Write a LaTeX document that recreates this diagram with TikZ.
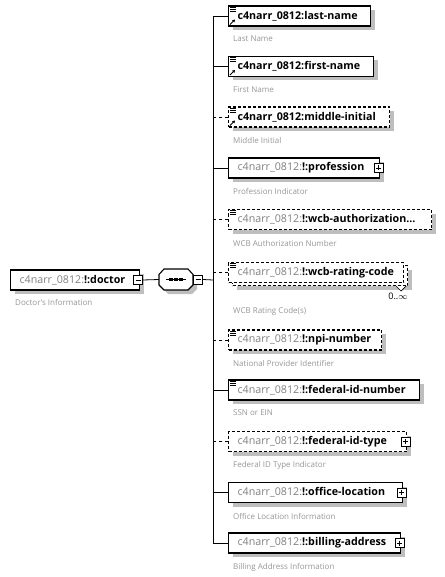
\documentclass[tikz,border=0pt]{standalone}
\usepackage{fontspec}
\setmainfont{Open Sans}
\usetikzlibrary{shadows,arrows.meta}
\definecolor{pfxgray}{RGB}{128,128,128}
\definecolor{descgray}{RGB}{150,150,150}
\definecolor{shadegray}{RGB}{190,190,190}
\newcommand\pfx{\textcolor{pfxgray}{c4narr\_0812:}}
\newcommand\el[1]{\mbox{\pfx\textbf{!:#1}}}
\newcommand\refel[1]{\mbox{\textbf{c4narr\_0812:#1}}}
\newcommand\docmark[1]{\foreach \k in {1.5,3.5,5.5} \draw[line width=0.7pt] ([shift={(2,\k)}]#1.north west) -- ++(6,0);}
\newcommand\refmark[1]{\draw[line width=0.8pt,-{Triangle[length=2.5pt,width=3pt]}] ([shift={(2,-2)}]#1.south west) -- ++(5,-5);}
\begin{document}
\begin{tikzpicture}[x=1pt,y=-1pt,
    box/.style={draw,line width=1.1pt,fill=white,anchor=west,minimum height=20pt,inner xsep=9pt,inner ysep=0pt,font=\fontsize{10.7}{12}\selectfont},
    elem/.style={box,drop shadow={shadow xshift=4pt,shadow yshift=-4pt,fill=shadegray,opacity=1}},
    opt/.style={elem,dash pattern=on 3pt off 2pt},
    desc/.style={anchor=west,inner sep=0pt,text=descgray,font=\fontsize{8}{10}\selectfont},
    minusbox/.style={draw,fill=white,line width=0.6pt,minimum size=9pt,inner sep=0pt,
        path picture={\draw[line width=0.6pt] ([xshift=2pt]path picture bounding box.west) -- ([xshift=-2pt]path picture bounding box.east);}},
    plusbox/.style={draw,fill=white,line width=0.6pt,minimum size=9pt,inner sep=0pt,
        path picture={\draw[line width=0.6pt] ([xshift=2pt]path picture bounding box.west) -- ([xshift=-2pt]path picture bounding box.east)
            ([yshift=-2pt]path picture bounding box.north) -- ([yshift=2pt]path picture bounding box.south);}},
    link/.style={line width=0.8pt},
    optlink/.style={line width=0.8pt,dash pattern=on 3pt off 3pt}]
    \useasboundingbox (0,0) rectangle (444,577);

    \node[elem,text width=111pt] (root) at (10,280) {\el{doctor}};
    \node[minusbox] (rm) at ([xshift=-2pt]root.east) {};
    \node[desc] (rootd) at (15,302) {Doctor's Information};
    \fill[shadegray,shift={(4,4)}] (159,274.5) -- (164,269) -- (188,269) -- (193,274.5) -- (193,285) -- (188,290) -- (164,290) -- (159,285) -- cycle;
    \filldraw[fill=white,line width=1.1pt] (159,274.5) -- (164,269) -- (188,269) -- (193,274.5) -- (193,285) -- (188,290) -- (164,290) -- (159,285) -- cycle;
    \node[minimum width=34pt,minimum height=21pt,inner sep=0pt] (seq) at (176,279.5) {};
    \draw[line width=1pt] ([xshift=-10pt]seq.center) -- ([xshift=10pt]seq.center);
    \foreach \d in {-5,0,5} \fill ([xshift=\d pt]seq.center) ++(-1.6,-1.6) rectangle ++(3.2,3.2);
    \node[minusbox,anchor=west] (sm) at (seq.east) {};
    \coordinate (spine) at (213,280);
    \draw[link] (rm.east) -- (seq.west);
    \draw[link] (sm.east) -- (spine);

    \node[elem,text width=124pt] (ln) at (228,16) {\refel{last-name}};
    \node[elem,text width=127pt] (fn) at (228,66.5) {\refel{first-name}};
    \node[opt,text width=143pt] (mi) at (228,117) {\refel{middle-initial}};
    \node[elem,text width=133pt] (pr) at (228,168) {\el{profession}};
    \node[opt,text width=185pt] (wa) at (228,219.5) {\el{wcb-authorization...}};
    \node[opt,text width=157pt] (rcb) at (232,275.5) {};
    \node[box,dash pattern=on 3pt off 2pt,text width=157pt] (rc) at (228,272.5) {\el{wcb-rating-code}};
    \node[opt,text width=135pt] (np) at (228,340) {\el{npi-number}};
    \node[elem,text width=173pt] (fi) at (228,390) {\el{federal-id-number}};
    \node[opt,text width=160pt] (ft) at (228,441.5) {\el{federal-id-type}};
    \node[elem,text width=156pt] (ol) at (228,492.5) {\el{office-location}};
    \node[elem,text width=154pt] (ba) at (228,543) {\el{billing-address}};

    \docmark{ln} \docmark{fn} \docmark{mi} \docmark{wa} \docmark{rc} \docmark{np} \docmark{fi}
    \refmark{ln} \refmark{fn} \refmark{mi}
    \node[plusbox] (prp) at ([xshift=-1.5pt]pr.east) {};
    \node[plusbox] (ftp) at ([xshift=-1.5pt]ft.east) {};
    \node[plusbox] (olp) at ([xshift=-1.5pt]ol.east) {};
    \node[plusbox] (bap) at ([xshift=-1.5pt]ba.east) {};
    \draw[line width=0.6pt,fill=white] ([xshift=-12pt]rcb.south east) -- ++(5,5) -- ++(5,-5);
    \node[inner sep=0pt,font=\fontsize{9}{10}\selectfont] (mult) at (398,296) {0..$\infty$};

    \node[desc] (lnd) at (233,39) {Last Name};
    \node[desc] (fnd) at (233,90) {First Name};
    \node[desc] (mid) at (233,141) {Middle Initial};
    \node[desc] (prd) at (233,191) {Profession Indicator};
    \node[desc] (wad) at (233,243) {WCB Authorization Number};
    \node[desc] (rcd) at (233,311) {WCB Rating Code(s)};
    \node[desc] (npd) at (233,363) {National Provider Identifier};
    \node[desc] (fid) at (233,413) {SSN or EIN};
    \node[desc] (ftd) at (233,465) {Federal ID Type Indicator};
    \node[desc] (old) at (233,516) {Office Location Information};
    \node[desc] (bad) at (233,567) {Billing Address Information};

    \draw[link] (spine |- ln.west) -- (spine |- ba.west);
    \draw[link] (spine |- ln.west) -- (ln.west);
    \draw[link] (spine |- fn.west) -- (fn.west);
    \draw[optlink] (spine |- mi.west) -- (mi.west);
    \draw[link] (spine |- pr.west) -- (pr.west);
    \draw[optlink] (spine |- wa.west) -- (wa.west);
    \draw[optlink] (spine |- rc.west) -- (rc.west);
    \draw[optlink] (spine |- np.west) -- (np.west);
    \draw[link] (spine |- fi.west) -- (fi.west);
    \draw[optlink] (spine |- ft.west) -- (ft.west);
    \draw[link] (spine |- ol.west) -- (ol.west);
    \draw[link] (spine |- ba.west) -- (ba.west);
\end{tikzpicture}
\end{document}
